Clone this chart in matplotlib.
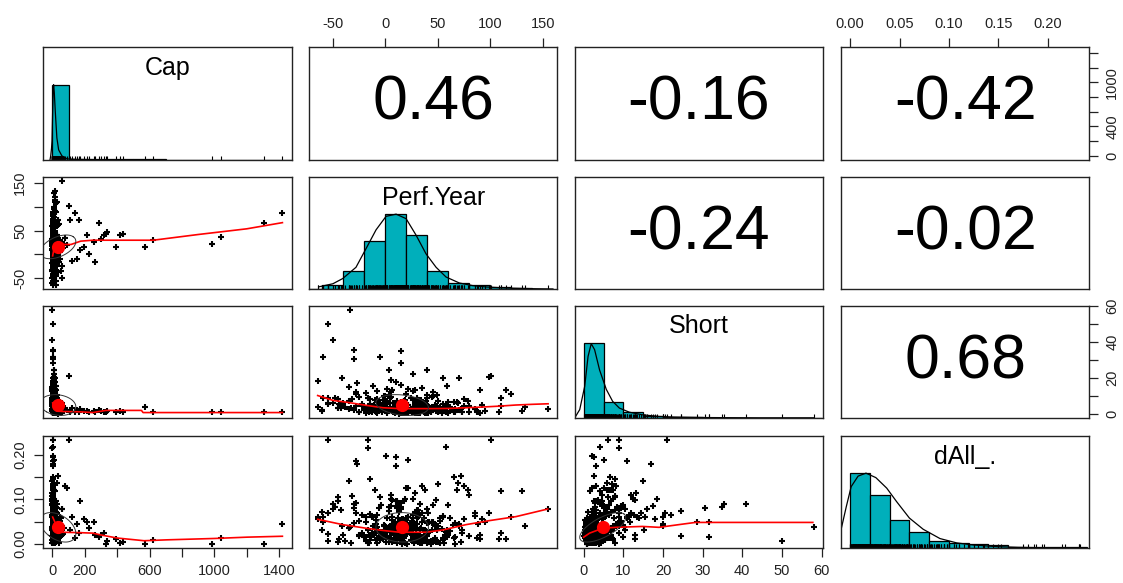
#!/usr/bin/env python3
"""
Scatterplot matrix (psych::pairs.panels style) of Cap, Perf.Year, Short, dAll_.
"""

import numpy as np
import matplotlib
matplotlib.use("Agg")
import matplotlib.pyplot as plt

plt.rcParams['font.family'] = ['Liberation Sans', 'DejaVu Sans']

var_names = ['Cap', 'Perf.Year', 'Short', 'dAll_.']

# correlations printed in the upper panels (row, col)
corr_cells = [(0, 1), (0, 2), (0, 3), (1, 2), (1, 3), (2, 3)]
corr_values = [0.46, -0.16, -0.42, -0.24, -0.02, 0.68]

# --- observations (bulk of the cloud), estimated off the scatter panels ---
cap_core = [5, 12, 3, 28, 8, 2, 45, 15, 6, 20,
            9, 4, 33, 14, 2, 55, 7, 18, 3, 25,
            11, 1, 38, 6, 22, 4, 65, 10, 16, 3,
            7, 30, 2, 13, 50, 5, 19, 8, 1, 40,
            4, 17, 26, 2, 10, 60, 6, 35, 14, 3,
            21, 9, 2, 48, 12, 5, 32, 7, 1, 24,
            6, 15, 3, 42, 11, 2, 27, 8, 70, 4,
            13, 5, 36, 9, 1, 20, 3, 52, 16, 7,
            10, 29, 2, 6, 44, 12, 4, 23, 8, 58,
            3, 18, 11, 1, 31, 7, 14, 5, 39, 2,
            9, 26, 4, 16, 2, 47, 6, 12, 21, 3,
            8, 34, 1, 13, 5, 62, 10, 19, 3, 28,
            4, 22, 7, 37, 2, 15, 50, 6, 11, 1,
            14, 3, 25, 9, 2, 41, 5, 17, 8, 55,
            6, 11, 20, 12, 30, 4, 9, 2, 45, 16,
            5, 8, 3, 14, 2, 10, 6, 19, 4, 7,
            11, 4, 7, 2, 16, 9, 3, 13, 6, 24,
            2, 5, 9, 3, 12, 7, 1, 18, 4, 8,
            3, 7, 12, 2, 5, 18, 9, 4, 26, 6,
            1, 10, 4, 15, 3, 8, 22, 2, 6, 13,
            5, 2, 17, 7, 11, 3, 30, 9, 1, 14,
            8, 4, 20, 6, 2, 12, 5, 35, 3, 10,
            2, 16, 6, 9, 3, 24, 7, 1, 11, 5,
            4, 13, 2, 8, 19, 6, 3, 27, 10, 5,
            3, 8, 2, 14, 5, 1, 22, 6, 10, 4,
            7, 2, 12, 4, 18, 3, 9, 1, 6, 15,
            5, 11, 2, 8, 3, 20, 6, 1, 13, 4,
            9, 3, 16, 2, 7, 4, 25, 1, 11, 5]
perf_core = [12, -8, 25, 40, 2, -25, 18, 55, 30, -15,
             8, 35, -2, 60, 20, -35, 48, 5, 15, 28,
             -5, 22, 10, 75, -18, 38, 14, 0, 44, -45,
             16, -10, 90, 24, 6, 52, -28, 33, 11, 65,
             -22, 19, 3, 42, 58, -50, 27, 13, -12, 70,
             36, -3, 85, 21, 47, 9, -38, 31, 17, 4,
             26, 50, -15, 7, 11, 14, 39, -7, 23, 45,
             -30, 18, 62, 1, 32, -55, 80, 12, 29, -20,
             15, 41, -8, 54, 20, 10, 6, -40, 37, 27,
             59, -1, 28, -60, 11, 43, 22, 12, -16, 34,
             8, 64, -33, 17, 49, 25, -4, 72, 13, 38,
             -12, 30, 10, 95, 46, -25, 19, 2, 55, 33,
             21, -45, 40, 5, 66, 35, -9, 16, 13, 26,
             -35, 52, 12, 30, -2, 20, 68, -17, 44, 9,
             24, -44, -64, 39, 15, 6, -6, 57, 31, 0,
             5, 14, 22, -6, 31, 18, 9, 2, 27, 12,
             20, -3, 35, 16, 7, 26, -12, 42, 1, 17,
             10, 29, -1, 19, 4, 33, 24, -9, 14, 8,
             -14, 3, 19, 36, 48, -6, 27, 11, -19, 52,
             23, -11, 8, 41, 15, 30, -2, 56, 18, 4,
             38, -17, 13, 2, 25, 45, 9, -8, 33, 21,
             0, 28, -13, 17, 39, 7, 50, 14, -4, 31,
             12, -9, 44, 22, -1, 6, 35, 19, 58, 26,
             16, 32, -18, 9, 24, 47, 1, 14, 37, -7,
             -48, -22, 5, 30, 62, -35, 18, 45, -10, 85,
             -5, 40, -28, 75, 10, 55, -42, 28, -15, 92,
             22, -55, 48, -18, 65, 3, 35, -32, 12, 50,
             -8, 80, 26, -45, 15, 38, -25, 60, 5, -60]
short_core = [2.1, 3.5, 1.2, 4.8, 6.5, 0.8, 2.9, 1.7, 8.2, 5.1,
              1.5, 3.0, 7.4, 0.5, 11.0, 2.4, 4.2, 9.5, 0.3, 6.0,
              2.6, 13.5, 1.0, 4.5, 3.3, 0.9, 1.9, 7.0, 2.2, 8.0,
              5.5, 1.3, 0.6, 8.8, 2.0, 3.8, 12.0, 0.4, 6.8, 1.1,
              4.0, 2.7, 10.2, 1.6, 0.7, 5.8, 3.1, 0.0, 15.5, 2.3,
              6.3, 1.4, 2.8, 0.9, 4.6, 2.2, 3.6, 7.8, 1.8, 9.0,
              3.9, 0.8, 5.0, 2.5, 1.6, 2.8, 0.6, 4.3, 1.2, 11.8,
              2.0, 7.2, 1.5, 3.4, 6.5, 5.4, 0.7, 2.9, 6.6, 2.05,
              1.0, 4.1, 8.0, 0.5, 3.0, 2.2, 13.0, 6.1, 1.3, 0.9,
              3.7, 9.8, 0.4, 1.7, 5.2, 2.6, 2.5, 0.8, 4.4, 7.6,
              6.0, 1.9, 3.2, 0.3, 10.5, 1.1, 4.9, 2.4, 3.5, 0.6,
              2.3, 5.6, 4.1, 1.4, 3.5, 0.8, 7.4, 14.0, 2.0, 4.7,
              0.5, 3.0, 8.6, 1.8, 2.7, 5.0, 0.9, 5.3, 1.0, 12.5,
              7.0, 2.1, 4.0, 9.0, 3.3, 1.5, 6.4, 2.8, 9.2, 0.4,
              1.2, 5.5, 3.9, 6.8, 0.7, 2.5, 5.7, 3.6, 1.6, 10.0,
              1.8, 2.6, 0.9, 3.2, 1.4, 4.0, 2.0, 0.6, 3.0, 1.1,
              2.4, 0.7, 1.9, 3.6, 1.0, 2.9, 4.5, 1.5, 5.8, 0.5,
              3.1, 0.4, 2.2, 1.3, 6.2, 0.9, 2.7, 1.7, 4.6, 3.9,
              1.4, 2.8, 0.6, 4.2, 1.9, 3.3, 0.8, 5.6, 2.3, 1.2,
              2.0, 4.8, 1.1, 0.5, 6.4, 2.5, 3.7, 1.6, 7.3, 3.0,
              0.7, 3.4, 2.1, 5.1, 1.3, 2.9, 4.4, 0.3, 2.6, 1.8,
              3.8, 1.5, 0.9, 2.4, 4.0, 6.0, 1.0, 2.7, 3.2, 0.4,
              2.2, 1.7, 3.5, 0.6, 4.6, 1.4, 2.0, 5.4, 1.0, 3.6,
              1.1, 2.9, 0.5, 4.3, 1.6, 3.1, 6.8, 2.4, 0.8, 1.9,
              8.5, 5.2, 12.0, 6.8, 3.9, 15.0, 4.6, 9.8, 7.4, 2.6,
              6.1, 10.5, 4.3, 8.2, 17.5, 5.6, 3.2, 13.2, 7.9, 4.8,
              5.0, 9.0, 3.5, 11.4, 6.6, 2.8, 14.5, 8.0, 4.1, 7.2,
              12.8, 4.5, 7.6, 3.0, 16.0, 5.9, 9.4, 6.3, 18.5, 2.0]
dall_core = [0.034, 0.012, 0.041, 0.022, 0.030, 0.018, 0.052, 0.008, 0.044, 0.066,
             0.027, 0.049, 0.010, 0.020, 0.058, 0.036, 0.004, 0.085, 0.016, 0.072,
             0.009, 0.060, 0.028, 0.055, 0.007, 0.032, 0.021, 0.019, 0.046, 0.105,
             0.016, 0.033, 0.011, 0.046, 0.060, 0.001, 0.070, 0.030, 0.095, 0.014,
             0.024, 0.048, 0.038, 0.005, 0.026, 0.078, 0.013, 0.018, 0.060, 0.040,
             0.031, 0.025, 0.062, 0.039, 0.014, 0.050, 0.006, 0.075, 0.017, 0.040,
             0.016, 0.040, 0.009, 0.045, 0.003, 0.092, 0.021, 0.012, 0.035, 0.050,
             0.047, 0.013, 0.029, 0.004, 0.064, 0.023, 0.017, 0.057, 0.030, 0.015,
             0.025, 0.068, 0.002, 0.034, 0.053, 0.008, 0.098, 0.019, 0.006, 0.040,
             0.015, 0.043, 0.037, 0.031, 0.080, 0.007, 0.061, 0.022, 0.003, 0.035,
             0.028, 0.042, 0.001, 0.054, 0.030, 0.020, 0.088, 0.005, 0.016, 0.010,
             0.039, 0.017, 0.030, 0.049, 0.006, 0.020, 0.100, 0.059, 0.012, 0.089,
             0.023, 0.004, 0.047, 0.012, 0.046, 0.014, 0.026, 0.008, 0.071, 0.100,
             0.035, 0.058, 0.013, 0.076, 0.020, 0.030, 0.120, 0.003, 0.050, 0.025,
             0.045, 0.010, 0.060, 0.029, 0.048, 0.005, 0.081, 0.020, 0.060, 0.015,
             0.026, 0.009, 0.034, 0.015, 0.005, 0.022, 0.011, 0.027, 0.008, 0.018,
             0.031, 0.013, 0.004, 0.024, 0.039, 0.009, 0.020, 0.049, 0.016, 0.006,
             0.012, 0.023, 0.040, 0.003, 0.027, 0.033, 0.008, 0.053, 0.014, 0.019,
             0.018, 0.004, 0.029, 0.011, 0.042, 0.024, 0.001, 0.036, 0.015, 0.052,
             0.033, 0.021, 0.007, 0.047, 0.013, 0.058, 0.026, 0.002, 0.039, 0.010,
             0.006, 0.030, 0.044, 0.017, 0.051, 0.009, 0.028, 0.037, 0.003, 0.022,
             0.041, 0.012, 0.024, 0.056, 0.019, 0.034, 0.005, 0.046, 0.027, 0.014,
             0.025, 0.008, 0.031, 0.043, 0.016, 0.053, 0.002, 0.038, 0.020, 0.011,
             0.035, 0.017, 0.049, 0.006, 0.028, 0.040, 0.013, 0.021, 0.057, 0.032,
             0.082, 0.065, 0.110, 0.072, 0.058, 0.140, 0.095, 0.088, 0.120, 0.068,
             0.105, 0.078, 0.092, 0.130, 0.085, 0.062, 0.075, 0.115, 0.145, 0.055,
             0.125, 0.070, 0.098, 0.060, 0.150, 0.082, 0.068, 0.107, 0.090, 0.135,
             0.064, 0.110, 0.058, 0.095, 0.078, 0.120, 0.052, 0.087, 0.100, 0.072]

# --- the scattered tail points ---
cap_tail = [1, 2, 1, 3, 2, 4, 6, 5, 2, 8,
            10, 12, 15, 7, 9, 3, 4, 6, 20, 25,
            18, 30, 14, 60, 10, 16, 22, 142, 111, 162,
            286, 214, 317, 255, 193, 224, 265, 152, 121, 170,
            90, 80, 18, 35, 28, 12,
            1420, 1306, 1039, 988, 623, 570, 438, 418, 390, 340, 330, 300,
            3, 2, 100, 1, 4, 2, 5, 8, 3, 6, 2]
perf_tail = [-34, -55, -50, -30, -59, -30, 15, 15, -5, 3,
             40, 99, 70, 55, 26, -41, -64, -59, 59, 90,
             115, 110, 120, 155, 130, 110, 108, 87, 73, 73,
             66, 41, 41, 26, 16, 1.5, -16, -9, -13, 10,
             20, 35, 133, 72, 69, 79,
             88, 66, 37, 21, 31, 16, 43, 40, 16, 48, 43, 33,
             -55, -17, 101, -17, 58, 1, 10, 22, -28, -27, 10]
short_tail = [58, 50, 41, 35.5, 31.6, 30.5, 35, 28.5, 31.5, 24.5,
              24.5, 20.5, 20, 20, 22, 20, 18, 9, 15.3, 13,
              13, 9, 11, 2.4, 1.5, 4, 1.0, 0.8, 1.0, 0.9,
              2.0, 1.4, 1.0, 1.2, 1.6, 0.9, 1.0, 2.0, 3.0, 2.5,
              2, 3, 3.5, 2.5, 6, 7,
              0.8, 0.8, 0.9, 0.8, 1.0, 3.9, 1.0, 1.2, 1.0, 1.5, 0.9, 1.5,
              6.1, 9, 21, 9, 4, 2.2, 2.6, 5, 11, 17, 3]
dall_tail = [0.037, 0.007, 0.089, 0.090, 0.050, 0.080, 0.083, 0.048, 0.016, 0.073,
             0.018, 0.070, 0.045, 0.060, 0.065, 0.040, 0.055, 0.060, 0.030, 0.020,
             0.010, 0.025, 0.060, 0.078, 0.119, 0.119, 0.010, 0.012, 0.030, 0.025,
             0.015, 0.050, 0.025, 0.050, 0.055, 0.035, 0.020, 0.045, 0.060, 0.095,
             0.125, 0.130, 0.040, 0.153, 0.136, 0.120,
             0.044, 0.000, 0.012, 0.000, 0.009, 0.000, 0.005, 0.003, 0.010, 0.006, 0.000, 0.020,
             0.232, 0.232, 0.233, 0.215, 0.218, 0.196, 0.194, 0.188, 0.186, 0.180, 0.175]

# --- histograms on the diagonal: bin edges and bar heights (scaled to max 1) ---
cap_bins = [0, 100, 200, 300, 400, 500, 600, 700, 800, 900, 1000, 1100, 1200, 1300, 1400, 1500]
cap_hist = [1.0, 0.012, 0.008, 0.005, 0.004, 0.002, 0.002, 0, 0, 0.001, 0.001, 0, 0, 0.001, 0.001]
perf_bins = [-80, -60, -40, -20, 0, 20, 40, 60, 80, 100, 120, 140, 160]
perf_hist = [0.003, 0.06, 0.24, 0.64, 1.0, 0.72, 0.24, 0.08, 0.05, 0.03, 0.01, 0.005]
short_bins = [0, 5, 10, 15, 20, 25, 30, 35, 40, 45, 50, 55, 60]
short_hist = [1.0, 0.21, 0.08, 0.03, 0.012, 0.006, 0.004, 0.002, 0.002, 0.0, 0.001, 0.001]
dall_bins = [0, 0.02, 0.04, 0.06, 0.08, 0.10, 0.12, 0.14, 0.16, 0.18, 0.20, 0.22, 0.24]
dall_hist = [1.0, 0.71, 0.37, 0.22, 0.10, 0.07, 0.055, 0.04, 0.02, 0.012, 0.008, 0.008]

# --- density curves (scaled to max 1) ---
cap_dens_x = [-14, -10, -5, -2, 2, 5, 8, 12, 18, 28, 39, 59, 90, 150, 250]
cap_dens_y = [0, 0.05, 0.15, 0.25, 0.65, 0.92, 1.0, 0.9, 0.65, 0.29, 0.13, 0.05, 0.01, 0.003, 0]
perf_dens_x = [-63, -50, -40.6, -28, -18.4, -8.9, 0.6, 10.2, 19.7, 29.2, 38.7, 48.3, 57.8,
               70.5, 83.2, 96, 115, 140.6, 159.6]
perf_dens_y = [0.03, 0.07, 0.14, 0.29, 0.54, 0.79, 0.97, 1.0, 0.94, 0.72, 0.47, 0.29, 0.16,
               0.08, 0.045, 0.027, 0.013, 0.004, 0.0]
short_dens_x = [-2.25, -1, 0.25, 1.1, 1.9, 2.75, 4, 5.7, 7.3, 9, 11.5, 14.8, 19, 23, 31.5, 44, 58]
short_dens_y = [0, 0.11, 0.42, 0.82, 0.99, 0.91, 0.64, 0.38, 0.22, 0.13, 0.075, 0.04, 0.018,
                0.01, 0.003, 0, 0]
dall_dens_x = [-0.009, -0.004, 0.001, 0.008, 0.016, 0.026, 0.037, 0.047, 0.060, 0.074, 0.091,
               0.108, 0.125, 0.149, 0.17, 0.2, 0.233]
dall_dens_y = [0.26, 0.55, 0.82, 0.96, 1.0, 0.94, 0.80, 0.62, 0.40, 0.25, 0.126, 0.068, 0.04,
               0.018, 0.009, 0.002, 0]

# --- red lowess lines in the lower panels ---
cap_perf_sm_x = [2, 10, 30, 115, 175, 250, 623, 900, 1200, 1420]
cap_perf_sm_y = [-3, 12, 21, 21, 28, 30, 30, 42, 54, 67]
cap_short_sm_x = [2, 8, 25, 62, 175, 250, 330, 550, 560, 1420]
cap_short_sm_y = [6, 3, 1.5, 1.2, 1.0, 0.6, 1.8, 1.8, 0.6, 0.6]
cap_dall_sm_x = [2, 20, 62, 175, 250, 298, 401, 566, 710, 998, 1204, 1420]
cap_dall_sm_y = [0.06, 0.045, 0.026, 0.025, 0.024, 0.020, 0.013, 0.007, 0.009, 0.012, 0.015, 0.017]
perf_short_sm_x = [-64.5, -50, -34, -18, -2.5, 13, 29, 45, 61, 77, 93, 109, 124, 140, 155]
perf_short_sm_y = [10.1, 7.4, 6.1, 4.6, 3.3, 2.8, 2.8, 2.8, 2.9, 3.3, 3.7, 4.2, 4.8, 5.2, 5.5]
perf_dall_sm_x = [-64.5, -40.6, -18.4, -2.5, 13.3, 38.7, 54.6, 76.8, 99, 124.4, 154.6]
perf_dall_sm_y = [0.055, 0.043, 0.035, 0.030, 0.026, 0.026, 0.031, 0.043, 0.052, 0.061, 0.078]
short_dall_sm_x = [0, 1.5, 4.8, 8.2, 14.8, 19, 24.8, 28.2, 39, 57.8]
short_dall_sm_y = [0.015, 0.024, 0.035, 0.037, 0.039, 0.037, 0.044, 0.048, 0.048, 0.048]

# means and sds used for the red dot and the correlation ellipse
var_means = [35, 16, 4.8, 0.037]
var_sds = [110, 25, 5.8, 0.033]

HIST_COL = '#00AFBB'
FIG_W, FIG_H = 1123, 583
COL_X = [43.3, 309.0, 574.5, 841.0]
ROW_Y = [47.3, 176.7, 305.5, 435.7]
PANEL_W, PANEL_H = 248.3, 112.3


def panel(fig, row, col):
    left = COL_X[col] / FIG_W
    bottom = 1 - (ROW_Y[row] + PANEL_H) / FIG_H
    ax = fig.add_axes([left, bottom, PANEL_W / FIG_W, PANEL_H / FIG_H])
    for s in ax.spines.values():
        s.set_linewidth(1.0)
        s.set_color('#222222')
    ax.tick_params(which='both', bottom=False, left=False, top=False, right=False,
                   labelbottom=False, labelleft=False, labeltop=False, labelright=False)
    return ax


def axis_ticks(ax, side, ticks, labels):
    kw = dict(direction='out', length=6.5, width=0.9, pad=5, labelsize=10.5,
              colors='#222222')
    if side in ('top', 'bottom'):
        ax.set_xticks(ticks)
        ax.set_xticklabels(labels)
        ax.tick_params(axis='x', top=side == 'top', bottom=side == 'bottom',
                       labeltop=side == 'top', labelbottom=side == 'bottom', **kw)
    else:
        ax.set_yticks(ticks)
        ax.set_yticklabels(labels, rotation=90, va='center')
        ax.tick_params(axis='y', left=side == 'left', right=side == 'right',
                       labelleft=side == 'left', labelright=side == 'right', **kw)


def ellipse(xm, ym, xs, ys, r, n=73):
    a = np.linspace(0, 2 * np.pi, n)
    circle = np.column_stack([np.cos(a), np.sin(a)])
    th = np.sign(r) / np.sqrt(2) if r != 0 else 1 / np.sqrt(2)
    shape = np.diag([np.sqrt(1 + r), np.sqrt(1 - r)]) @ np.array([[th, th], [-th, th]])
    e = circle @ shape
    return e[:, 0] * xs + xm, e[:, 1] * ys + ym


if __name__ == "__main__":
    data = [np.array(cap_core + cap_tail, float),
            np.array(perf_core + perf_tail, float),
            np.array(short_core + short_tail, float),
            np.array(dall_core + dall_tail, float)]
    lims = []
    for v in data:
        rng = v.max() - v.min()
        lims.append((v.min() - 0.04 * rng, v.max() + 0.04 * rng))

    hists = [(cap_bins, cap_hist), (perf_bins, perf_hist),
             (short_bins, short_hist), (dall_bins, dall_hist)]
    dens = [(cap_dens_x, cap_dens_y), (perf_dens_x, perf_dens_y),
            (short_dens_x, short_dens_y), (dall_dens_x, dall_dens_y)]
    smooths = {(1, 0): (cap_perf_sm_x, cap_perf_sm_y),
               (2, 0): (cap_short_sm_x, cap_short_sm_y),
               (3, 0): (cap_dall_sm_x, cap_dall_sm_y),
               (2, 1): (perf_short_sm_x, perf_short_sm_y),
               (3, 1): (perf_dall_sm_x, perf_dall_sm_y),
               (3, 2): (short_dall_sm_x, short_dall_sm_y)}
    corr = dict(zip(corr_cells, corr_values))

    fig = plt.figure(figsize=(FIG_W / 100, FIG_H / 100), dpi=100)
    axes = {}
    for i in range(4):
        for j in range(4):
            ax = panel(fig, i, j)
            axes[(i, j)] = ax
            ax.set_xlim(lims[j])
            if i == j:
                # histogram + density + rug
                edges, h = hists[i]
                edges = np.array(edges, float)
                ax.bar(edges[:-1], h, width=np.diff(edges), align='edge',
                       color=HIST_COL, edgecolor='black', linewidth=0.9)
                ax.plot(dens[i][0], dens[i][1], color='black', lw=0.9)
                ax.vlines(data[i], 0, 0.05, color='black', lw=0.8)
                ax.set_ylim(0, 1.5)
                ax.text(0.5, 1.22, var_names[i], transform=ax.get_yaxis_transform(),
                        ha='center', va='center', fontsize=18)
            elif i < j:
                ax.set_ylim(lims[i])
                ax.text(0.5, 0.5, f"{corr[(i, j)]:.2f}", transform=ax.transAxes,
                        ha='center', va='center', fontsize=45)
            else:
                ax.set_ylim(lims[i])
                ax.plot(data[j], data[i], '+', color='black', ms=4.8, mew=1.5)
                sx, sy = smooths[(i, j)]
                ax.plot(sx, sy, color='red', lw=1.2)
                ex, ey = ellipse(var_means[j], var_means[i], var_sds[j], var_sds[i],
                                 corr[(j, i)])
                ax.plot(ex, ey, color='#333333', lw=0.7)
                ax.plot(var_means[j], var_means[i], 'o', color='red', ms=8.5)

    # outer axes
    axis_ticks(axes[(0, 1)], 'top', [-50, 0, 50, 100, 150], ['-50', '0', '50', '100', '150'])
    axis_ticks(axes[(0, 3)], 'top', [0, 0.05, 0.10, 0.15, 0.20],
               ['0.00', '0.05', '0.10', '0.15', '0.20'])
    axis_ticks(axes[(3, 0)], 'bottom', list(range(0, 1401, 200)),
               ['0', '200', '', '600', '', '1000', '', '1400'])
    axis_ticks(axes[(3, 2)], 'bottom', list(range(0, 61, 10)),
               ['0', '10', '20', '30', '40', '50', '60'])
    axis_ticks(axes[(1, 0)], 'left', [-50, 0, 50, 100, 150], ['-50', '', '50', '', '150'])
    axis_ticks(axes[(3, 0)], 'left', [0, 0.05, 0.10, 0.15, 0.20],
               ['0.00', '', '0.10', '', '0.20'])
    axis_ticks(axes[(0, 3)], 'right', list(range(0, 1401, 200)),
               ['0', '', '400', '', '', '1000', '', ''])
    axis_ticks(axes[(2, 3)], 'right', list(range(0, 61, 10)),
               ['0', '', '20', '', '40', '', '60'])

    fig.savefig('out.png', dpi=100)
